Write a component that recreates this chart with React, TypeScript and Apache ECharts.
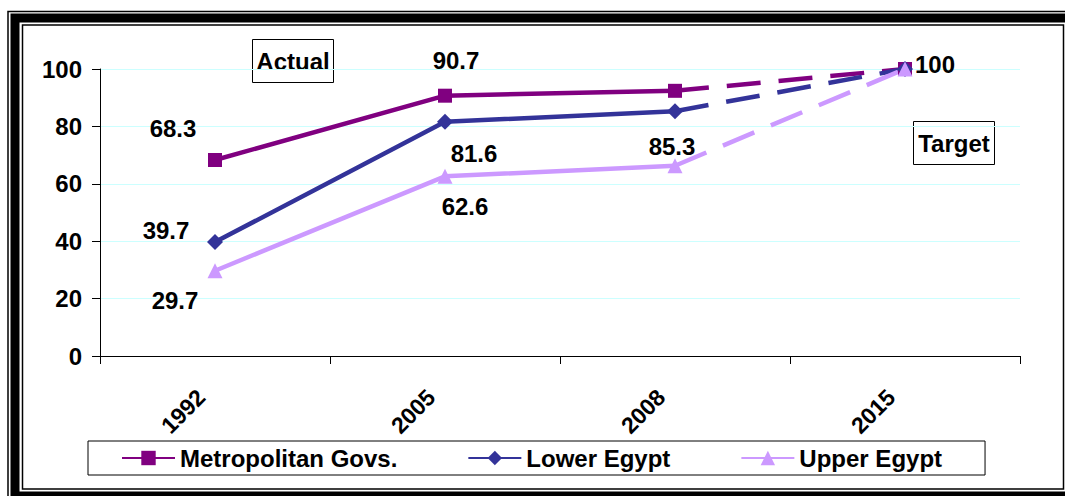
import React, { useEffect, useRef } from "react";
import * as echarts from "echarts";

// Survey years on the category axis
const years = ["1992", "2005", "2008", "2015"];

// Rates per region; the last year is the 2015 target
const metropolitan = [68.3, 90.7, 92.4, 100];
const lowerEgypt = [39.7, 81.6, 85.3, 100];
const upperEgypt = [29.7, 62.6, 66.3, 100];

// Y axis ticks
const yMin = 0;
const yMax = 100;
const yStep = 20;

// Index of the last actual observation (2008)
const lastActual = 2;

const FONT = "'Liberation Sans', Arial, sans-serif";
const TEXT_SIZE = 24;

type LabelPlace = { [idx: number]: [number, number] };

interface RegionSeries {
  name: string;
  values: number[];
  color: string;
  symbol: string;
  symbolSize: number;
  labels: LabelPlace;
}

const regions: RegionSeries[] = [
  {
    name: "Metropolitan Govs.",
    values: metropolitan,
    color: "#800080",
    symbol: "rect",
    symbolSize: 14,
    labels: { 0: [-42, -31], 1: [11, -35] },
  },
  {
    name: "Lower Egypt",
    values: lowerEgypt,
    color: "#333399",
    symbol: "diamond",
    symbolSize: 16,
    labels: { 0: [-49, -12], 1: [29, 32], 2: [-3, 35] },
  },
  {
    name: "Upper Egypt",
    values: upperEgypt,
    color: "#CC99FF",
    symbol: "triangle",
    symbolSize: 15,
    labels: { 0: [-40, 30], 1: [20, 30], 3: [30, -5] },
  },
];

const labelStyle = {
  color: "#000",
  fontFamily: FONT,
  fontWeight: "bold" as const,
  fontSize: TEXT_SIZE,
};

function pointLabel(offset?: [number, number]) {
  if (!offset) return { show: false };
  return {
    show: true,
    position: "inside",
    offset,
    formatter: "{c}",
    ...labelStyle,
  };
}

function buildSeries() {
  const out: any[] = [];
  regions.forEach((r) => {
    // actual values: solid line with markers
    out.push({
      type: "line",
      name: r.name,
      symbol: r.symbol,
      symbolSize: r.symbolSize,
      lineStyle: { color: r.color, width: 4.5 },
      itemStyle: { color: r.color },
      data: r.values.map((v, i) =>
        i <= lastActual ? { value: v, label: pointLabel(r.labels[i]) } : "-"
      ),
    });
  });
  regions.forEach((r) => {
    // target: dashed line from the last observation to 2015
    out.push({
      type: "line",
      name: r.name,
      symbol: r.symbol,
      symbolSize: r.symbolSize,
      lineStyle: { color: r.color, width: 4.5, type: [34, 18] },
      itemStyle: { color: r.color },
      data: r.values.map((v, i) => {
        if (i < lastActual) return "-";
        if (i === lastActual) return { value: v, symbol: "none" };
        return { value: v, label: pointLabel(r.labels[i]) };
      }),
    });
  });
  return out;
}

function boxedText(text: string, x: number, y: number, w: number, h: number) {
  return {
    type: "group",
    left: x,
    top: y,
    children: [
      {
        type: "rect",
        shape: { x: 0, y: 0, width: w, height: h },
        style: { fill: "#fff", stroke: "#000", lineWidth: 1 },
      },
      {
        type: "text",
        x: w / 2,
        y: h / 2,
        style: {
          text,
          align: "center",
          verticalAlign: "middle",
          fill: "#000",
          font: `bold ${TEXT_SIZE}px ${FONT}`,
        },
      },
    ],
  };
}

export default function App() {
  const ref = useRef<HTMLDivElement>(null);

  useEffect(() => {
    if (!ref.current) return;
    const chart = echarts.init(ref.current, undefined, { renderer: "svg" });
    chart.setOption({
      animation: false,
      backgroundColor: "#fff",
      grid: { left: 100, right: 45, top: 69, bottom: 140 },
      xAxis: {
        type: "category",
        data: years,
        boundaryGap: true,
        axisLine: { lineStyle: { color: "#000", width: 1 } },
        axisTick: { show: true, length: 8, lineStyle: { color: "#000" } },
        axisLabel: {
          rotate: 45,
          margin: 51,
          verticalAlign: "bottom",
          padding: [0, 0, 8, 0],
          color: "#000",
          fontFamily: FONT,
          fontWeight: "bold",
          fontSize: 23,
        },
        splitLine: { show: false },
      },
      yAxis: {
        type: "value",
        min: yMin,
        max: yMax,
        interval: yStep,
        axisLine: { show: true, lineStyle: { color: "#000", width: 1 } },
        axisTick: { show: true, length: 8, lineStyle: { color: "#000" } },
        axisLabel: {
          margin: 18,
          color: "#000",
          fontFamily: FONT,
          fontWeight: "bold",
          fontSize: TEXT_SIZE,
        },
        splitLine: { show: true, lineStyle: { color: "#CCFFFF", width: 1 } },
      },
      legend: {
        data: regions.map((r) => r.name),
        left: 88,
        top: 441,
        itemWidth: 53,
        itemHeight: 18,
        itemGap: 70,
        padding: [5, 43, 5, 33],
        borderColor: "#000",
        borderWidth: 1,
        selectedMode: false,
        textStyle: {
          color: "#000",
          fontFamily: FONT,
          fontWeight: "bold",
          fontSize: TEXT_SIZE,
        },
      },
      graphic: [
        // triple frame around the chart
        {
          type: "rect",
          shape: { x: 8, y: 11.5, width: 1070, height: 500 },
          style: { fill: "none", stroke: "#000", lineWidth: 1.5 },
          silent: true,
        },
        {
          type: "rect",
          shape: { x: 15, y: 18, width: 1070, height: 478 },
          style: { fill: "none", stroke: "#000", lineWidth: 9 },
          silent: true,
        },
        {
          type: "rect",
          shape: { x: 22.5, y: 25, width: 1041, height: 464 },
          style: { fill: "none", stroke: "#000", lineWidth: 1.5 },
          silent: true,
        },
        boxedText("Actual", 252, 39, 81, 43),
        boxedText("Target", 913, 121, 81, 43),
      ],
      series: buildSeries(),
    });
    return () => chart.dispose();
  }, []);

  return (
    <div
      ref={ref}
      style={{ position: "fixed", left: 0, top: 0, width: 1065, height: 496 }}
    />
  );
}
